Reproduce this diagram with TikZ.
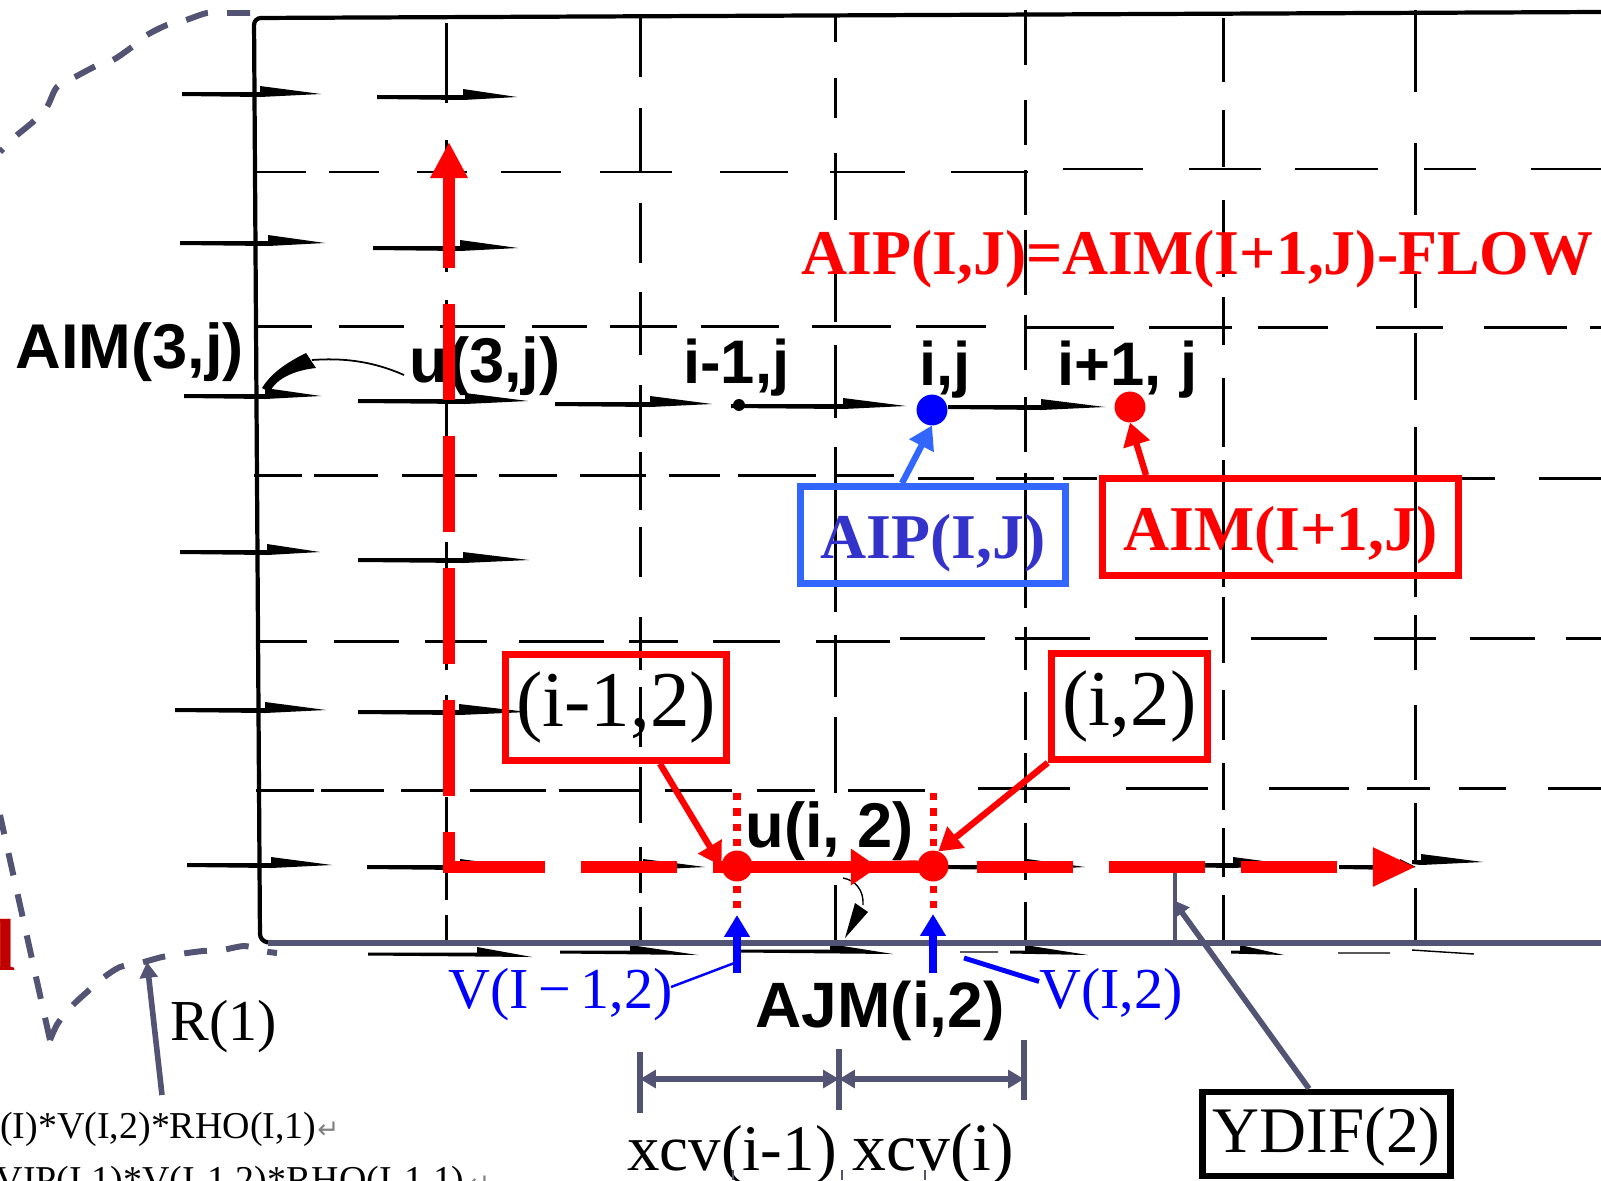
\documentclass[tikz,border=0pt]{standalone}
\usepackage{fontspec}
\usepackage{tikz}
\usetikzlibrary{arrows.meta, positioning, calc}
\setmainfont{Liberation Serif}
\newfontfamily\arialfont{Liberation Sans}
\newfontfamily\symfont{DejaVu Sans}
\definecolor{slate}{RGB}{83,83,116}
\definecolor{boxblue}{RGB}{51,102,255}
\definecolor{inkblue}{RGB}{51,51,204}
\definecolor{darkred}{RGB}{192,0,0}
\tikzset{
    gridline/.style={black, line width=1.7pt},
    boundary/.style={slate, line width=3.4pt, dash pattern=on 13pt off 11pt},
    redflow/.style={red, line width=6.8pt, dash pattern=on 54.6pt off 20.5pt},
    redline/.style={red, line width=3.6pt, -{Triangle[length=13pt,width=15pt]}},
    reddots/.style={red, line width=4pt, dash pattern=on 4pt off 4.8pt},
    blueup/.style={blue, line width=4.4pt, -{Triangle[length=12.5pt,width=14pt]}},
    slateline/.style={slate, line width=3.2pt},
    dotnode/.style={circle, inner sep=0pt, outer sep=0pt, minimum size=17.6pt},
    tag/.style={inner sep=0pt, anchor=base west},
    sanslabel/.style={tag, font=\arialfont\bfseries\fontsize{36}{38}\selectfont},
    smalllabel/.style={tag, font=\arialfont\bfseries\fontsize{35}{38}\selectfont},
    boxtext/.style={rectangle, draw, inner sep=0pt, line width=4pt, red, text height=34.2pt, text depth=8pt, font=\bfseries\fontsize{36.3}{40}\selectfont},
    plainbox/.style={rectangle, draw, inner sep=0pt, line width=4pt, text=black, font=\fontsize{45}{50}\selectfont}
}
\begin{document}
\begin{tikzpicture}[x=0.02cm, y=-0.02cm]
    \useasboundingbox (0,0) rectangle (1601,1180);
    \clip (0,0) rectangle (1601,1180);

    % Scanned mesh, vertical lines
    \foreach \x/\segs in {
        446/{23/103,140/272,300/395,402/440,470/530,542/670,695/780,797/845,860/900,915/943},
        640/{17/77,108/172,203/263,292/355,385/437,452/510,527/577,617/670,687/747,767/823,847/893,907/943},
        835/{17/42,78/118,153/220,263/322,345/418,447/612,635/697,717/793,885/943},
        1025/{10/65,100/145,170/215,230/295,315/370,397/452,473/608,627/670,692/740,753/803,823/880,902/943},
        1223/{18/82,110/167,200/277,297/345,378/447,460/587,597/663,690/740,763/810,828/877,895/940},
        1415/{10/92,143/215,273/308,333/400,427/597,615/670,705/780,803/863,888/942}}
        \foreach \a/\b in \segs
            \draw[gridline] (\x,\a) -- (\x,\b);

    % Scanned mesh, horizontal lines
    \foreach \y/\segs in {
        172/{256/306,329/379,417/467,501/561,600/672,720/788,830/905,951/1028},
        169/{1063/1143,1189/1261,1295/1378,1424/1476,1531/1601},
        326/{256/312,339/404,440/505,532/587,610/677,701/779,812/891,916/986},
        327/{1025/1114,1149/1232,1258/1328,1376/1443,1484/1567,1590/1601},
        475/{254/302,314/378,402/477,499/557,580/646,669/720,738/816,836/894},
        478/{918/974,996/1054,1063/1097,1165/1315,1352/1400,1459/1495,1539/1601},
        641/{258/307,334/399,425/487,519/604,629/678,713/780,816/890},
        638/{900/985,1015/1090,1135/1208,1251/1327,1374/1436,1470/1535,1566/1601},
        790/{256/314,321/384,401/454,470/546,559/640,665/732,757/815,848/925},
        788/{978/1070,1126/1208,1269/1349,1367/1430,1459/1506,1548/1601}}
        \foreach \a/\b in \segs
            \draw[gridline] (\a,\y) -- (\b,\y);

    % Scanned velocity marks
    \foreach \xa/\xb/\xc/\y in {
        182/260/321/94, 377/463/517/97, 180/268/325/243, 373/460/518/248,
        184/265/321/396, 358/465/528/401, 555/650/712/404, 731/843/906/406, 948/1041/1105/407,
        180/267/320/552, 358/463/529/560, 175/265/326/710, 358/459/528/712,
        187/271/332/865, 367/460/520/867, 590/643/705/867, 940/1027/1085/867,
        1170/1233/1293/865, 1339/1400/1416/867, 1412/1421/1483/862}
        \fill[black] (\xa,\y-2) -- (\xb,\y-2) -- (\xb,\y-8) -- (\xc,\y) -- (\xb,\y+3) -- (\xa,\y+2) -- cycle;
    \foreach \xa/\xb/\xc/\y in {368/477/532/954, 560/630/698/952, 740/830/893/951, 1010/1025/1088/952, 1231/1240/1284/952}
        \fill[black] (\xa,\y-1.5) -- (\xb,\y-1.5) -- (\xb,\y-7) -- (\xc,\y+3) -- (\xa,\y+1.5) -- cycle;
    \draw[black, line width=0.8pt] (960,952) -- (998,952) (1338,953) -- (1390,953) (1412,950) -- (1474,954);
    \fill[black] (855,903) -- (868,912) -- (845,938) -- cycle;
    \draw[black, line width=0.8pt] (843,878) .. controls (855,880) and (864,890) .. (863,905);

    % Mesh frame and lower wall
    \draw[black, line width=2.4pt, rounded corners=4pt] (1601,12) -- (254,18) -- (260,941) -- (272,943);
    \draw[slateline] (268,943) -- (1601,943);
    \coordinate (wallmark) at (1175,943);
    \coordinate (flowmark) at (1175,867);
    \draw[slate, line width=2.8pt] (wallmark) -- (flowmark);

    % Curved wall
    \coordinate (wallkink) at (50,1040);
    \coordinate (wallcut) at (0,815);
    \draw[boundary] plot[smooth] coordinates {(250,13) (226,13) (207,13) (186,20) (167,25) (147,35) (132,47) (113,60) (96,66) (75,77) (57,87) (47,107) (34,121) (16,136) (0,152)};
    \draw[boundary] (wallkink) -- (wallcut);
    \draw[boundary] plot[smooth] coordinates {(50,1040) (58,1023) (73,1005) (87,992) (103,978) (120,967) (140,963) (162,957) (180,954) (203,951) (222,950) (245,946) (263,951) (277,953)};

    % Define nodes
    \node[dotnode, fill=black, minimum size=6.8pt] (dotw) at (739,405) {};
    \node[dotnode, fill=blue] (dotp) at (932,410) {};
    \node[dotnode, fill=red] (dote) at (1130,407) {};
    \node[dotnode, fill=red] (dota) at (737,866) {};
    \node[dotnode, fill=red] (dotb) at (933,866) {};

    \node[boxtext, draw=boxblue, text=inkblue, minimum width=151pt, minimum height=55pt] (boxaip) at (933,535) {AIP(I,J)};
    \node[boxtext, minimum width=203pt, minimum height=55pt] (boxaim) at (1280.5,527) {AIM(I+1,J)};
    \node[plainbox, draw=red, minimum width=126pt, minimum height=60pt] (boxim) at (616,707.5) {(i-1,2)};
    \node[plainbox, draw=red, minimum width=89pt, minimum height=60pt] (boxi) at (1129.5,706.5) {(i,2)};
    \node[rectangle, draw, inner sep=0pt, line width=3.6pt, text height=28.5pt, text depth=8pt, font=\fontsize{37}{40}\selectfont, minimum width=141pt, minimum height=48pt] (boxydif) at (1326.5,1134) {YDIF(2)};

    \node[tag, red, font=\bfseries\fontsize{36.3}{40}\selectfont] (aipeq) at (801,274) {AIP(I,J)=AIM(I+1,J)-FLOW};
    \node[sanslabel] (aim3j) at (15,368) {AIM(3,j)};
    \node[sanslabel] (u3j) at (409,382) {u(3,j)};
    \node[smalllabel] (wlabel) at (683,383) {i-1,j};
    \node[smalllabel] (plabel) at (919,385) {i,j};
    \node[smalllabel] (elabel) at (1057,385) {i+1,\hspace{0.3em}j};
    \node[sanslabel] (ui2) at (745,847) {u(i, 2)};
    \node[sanslabel, font=\arialfont\bfseries\fontsize{36.5}{38}\selectfont] (ajm) at (755,1027) {AJM(i,2)};

    \node[tag, blue, font=\fontsize{33}{36}\selectfont] (vleft) at (448,1008) {V(I\,−\,1,2)};
    \node[tag, blue, font=\fontsize{33}{36}\selectfont] (vright) at (1039,1008) {V(I,2)};
    \node[tag, font=\fontsize{33}{36}\selectfont] (rone) at (170,1040) {R(1)};
    \node[tag, font=\fontsize{37}{40}\selectfont] (xcvim) at (627,1170) {xcv(i-1)};
    \node[tag, font=\fontsize{38.5}{40}\selectfont] (xcvi) at (852,1170) {xcv(i)};

    \node[tag, anchor=base east, darkred, font=\bfseries\fontsize{42}{44}\selectfont] (cutletter) at (16,970) {l};
    \node[tag, font=\fontsize{21.6}{24}\selectfont] (codeone) at (0,1138) {(I)*V(I,2)*RHO(I,1)};
    \node[tag, anchor=base east, font=\fontsize{21.6}{24}\selectfont] (codetwo) at (465,1192) {VIP(I,1)*V(I-1,2)*RHO(I-1,1)};
    \node[tag, gray, font=\symfont\fontsize{15}{16}\selectfont] (retone) at (317,1138) {↵};
    \node[tag, gray, font=\symfont\fontsize{15}{16}\selectfont] (rettwo) at (468,1192) {↵};

    % Red flow paths
    \coordinate (corner) at (449,867);
    \coordinate (flowstart) at (449,873);
    \coordinate (flowup) at (449,142);
    \coordinate (flowright) at (1416,867);
    \coordinate (solidstart) at (713,867);
    \coordinate (solidtip) at (878,867);
    \draw[redflow, dash phase=31.3pt, -{Triangle[length=20.5pt,width=20pt]}] (flowstart) -- (flowup);
    \draw[redflow, -{Triangle[length=24.5pt,width=20.5pt]}] (corner) -- (flowright);
    \draw[red, line width=6.8pt, -{Triangle[length=15.5pt,width=20pt]}] (solidstart) -- (solidtip);
    \draw[red, line width=6.8pt] (solidtip) -- (dotb);
    \draw[reddots] (737,793) -- (737,912);
    \draw[reddots] (933,793) -- (933,912);

    % Draw arrows and labels
    \draw[redline] (boxim.-52) -- (dota.west);
    \draw[redline] (boxi.south west) -- (dotb.70);
    \draw[redline] (boxaim.north -| 1146,0) -- (dote.south);
    \draw[boxblue, line width=3.6pt, -{Triangle[length=13pt,width=15pt]}] (boxaip.north -| 902,0) -- (dotp.south);

    \coordinate (vtipa) at (737,915);
    \coordinate (vtaila) at (737,973);
    \coordinate (vtipb) at (933,914);
    \coordinate (vtailb) at (933,973);
    \draw[blueup] (vtaila) -- (vtipa);
    \draw[blueup] (vtailb) -- (vtipb);
    \coordinate (vpointa) at (737,962);
    \coordinate (vpointb) at (964,958);
    \draw[blue, line width=1.4pt] (vleft.base east) ++(-2,-21) -- (vpointa);
    \draw[blue, line width=2.8pt] (vright.north west) ++(0,14) -- (vpointb);

    \draw[black, line width=1pt] (404,375) .. controls (370,360) and (340,358) .. (312,360);
    \fill[black] (262,388) .. controls (272,372) and (288,362) .. (306,353) -- (316,368) .. controls (296,370) and (276,378) .. (270,392) -- cycle;

    \coordinate (rfoot) at (162,1095);
    \coordinate (rtip) at (147,962);
    \draw[slateline, -{Triangle[length=9pt,width=10pt]}] (rfoot) -- (rtip);
    \coordinate (ydiftip) at (1173,900);
    \draw[slateline, -{Triangle[length=9pt,width=10pt]}] (boxydif.north -| 1309,0) -- (ydiftip);

    % Width markers
    \coordinate (marka) at (640,1079);
    \coordinate (markb) at (839,1079);
    \coordinate (markc) at (1024,1079);
    \draw[slateline] (640,1052) -- (640,1113);
    \draw[slateline] (839,1049) -- (839,1110);
    \draw[slateline] (1024,1040) -- (1024,1100);
    \draw[slateline, {Triangle[length=9pt,width=10pt]}-{Triangle[length=9pt,width=10pt]}] (marka) -- (markb);
    \draw[slateline, {Triangle[length=9pt,width=10pt]}-{Triangle[length=9pt,width=10pt]}] (markb) -- (markc);
    \draw[slate, line width=0.6pt] (733,1170) -- (733,1180) (842,1170) -- (842,1180) (925,1170) -- (925,1180);
\end{tikzpicture}
\end{document}
